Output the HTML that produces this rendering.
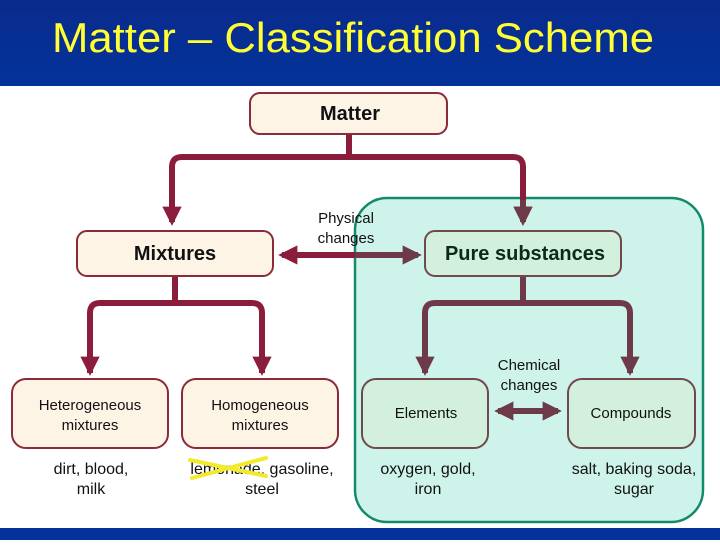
<!DOCTYPE html>
<html><head><style>
body{margin:0;width:720px;height:540px;overflow:hidden;background:#fff;font-family:"Liberation Sans",sans-serif;}
</style></head><body>
<svg width="720" height="540" xmlns="http://www.w3.org/2000/svg">
<defs>
<linearGradient id="hb" x1="0" y1="0" x2="0" y2="1"><stop offset="0" stop-color="#0a2a8c"/><stop offset="1" stop-color="#03339a"/></linearGradient>
<marker id="a" viewBox="0 0 10 10" refX="8" refY="5" markerWidth="3.2" markerHeight="3.2" orient="auto-start-reverse"><path d="M0,0 L10,5 L0,10 z" fill="#8a1c3c"/></marker>
<marker id="b" viewBox="0 0 10 10" refX="8" refY="5" markerWidth="3.2" markerHeight="3.2" orient="auto-start-reverse"><path d="M0,0 L10,5 L0,10 z" fill="#6e3a4a"/></marker>
</defs>
<rect x="0" y="0" width="720" height="86" fill="url(#hb)"/>
<text x="353" y="52" text-anchor="middle" fill="#ffff33" font-size="42" textLength="602" lengthAdjust="spacingAndGlyphs">Matter – Classification Scheme</text>
<rect x="0" y="528" width="720" height="12" fill="#03339a"/>

<rect x="355" y="198" width="348" height="324" rx="32" fill="#cdf3ea" stroke="#138a6c" stroke-width="2.5"/>

<g fill="none" stroke-width="6" stroke-linejoin="round">
<path d="M349 134 V157" stroke="#8a1c3c"/>
<path d="M172 222 V167 Q172 157 182 157 H513 Q523 157 523 167 V222" stroke="#8a1c3c" marker-start="url(#a)" marker-end="url(#a)"/>
<path d="M523 200 V222" stroke="#6e3a4a" marker-end="url(#b)"/>
<path d="M282 255 H355" stroke="#8a1c3c" marker-start="url(#a)"/>
<path d="M355 255 H418" stroke="#6e3a4a" marker-end="url(#b)"/>
<path d="M175 276 V303 M90 373 V313 Q90 303 100 303 H252 Q262 303 262 313 V373" stroke="#8a1c3c"/>
<path d="M90 360 V372" stroke="#8a1c3c" marker-end="url(#a)"/>
<path d="M262 360 V372" stroke="#8a1c3c" marker-end="url(#a)"/>
<path d="M523 276 V303 M425 373 V313 Q425 303 435 303 H620 Q630 303 630 313 V373" stroke="#6e3a4a"/>
<path d="M425 360 V372" stroke="#6e3a4a" marker-end="url(#b)"/>
<path d="M630 360 V372" stroke="#6e3a4a" marker-end="url(#b)"/>
<path d="M498 411 H558" stroke="#6e3a4a" marker-start="url(#b)" marker-end="url(#b)"/>
</g>

<g stroke-width="2">
<rect x="250" y="93" width="197" height="41" rx="10" fill="#fdf4e6" stroke="#8a2a3a"/>
<rect x="77" y="231" width="196" height="45" rx="10" fill="#fdf4e6" stroke="#8a2a3a"/>
<rect x="425" y="231" width="196" height="45" rx="10" fill="#d3f0de" stroke="#6e4a4a"/>
<rect x="12" y="379" width="156" height="69" rx="14" fill="#fdf4e6" stroke="#8a2a3a"/>
<rect x="182" y="379" width="156" height="69" rx="14" fill="#fdf4e6" stroke="#8a2a3a"/>
<rect x="362" y="379" width="126" height="69" rx="14" fill="#d3f0de" stroke="#6e4a4a"/>
<rect x="568" y="379" width="127" height="69" rx="14" fill="#d3f0de" stroke="#6e4a4a"/>
</g>

<g font-family="Liberation Sans, sans-serif" text-anchor="middle" fill="#111">
<text x="350" y="120" font-size="20" font-weight="bold">Matter</text>
<text x="175" y="260" font-size="20" font-weight="bold">Mixtures</text>
<text x="525" y="260" font-size="20" font-weight="bold" fill="#0a2a1a">Pure substances</text>
<text x="346" y="223" font-size="15">Physical</text>
<text x="346" y="243" font-size="15">changes</text>
<text x="529" y="370" font-size="15">Chemical</text>
<text x="529" y="390" font-size="15">changes</text>
<text x="90" y="410" font-size="15">Heterogeneous</text>
<text x="90" y="430" font-size="15">mixtures</text>
<text x="260" y="410" font-size="15">Homogeneous</text>
<text x="260" y="430" font-size="15">mixtures</text>
<text x="426" y="418" font-size="15">Elements</text>
<text x="631" y="418" font-size="15">Compounds</text>
<text x="91" y="474" font-size="16">dirt, blood,</text>
<text x="91" y="494" font-size="16">milk</text>
<text x="262" y="474" font-size="16">lemonade, gasoline,</text>
<text x="262" y="494" font-size="16">steel</text>
<text x="428" y="474" font-size="16">oxygen, gold,</text>
<text x="428" y="494" font-size="16">iron</text>
<text x="634" y="474" font-size="16">salt, baking soda,</text>
<text x="634" y="494" font-size="16">sugar</text>
</g>
<g stroke="#f2ea2a" stroke-width="4" stroke-linecap="round">
<line x1="190" y1="460" x2="266" y2="476"/>
<line x1="192" y1="478" x2="266" y2="458"/>
</g>
</svg>
</body></html>
